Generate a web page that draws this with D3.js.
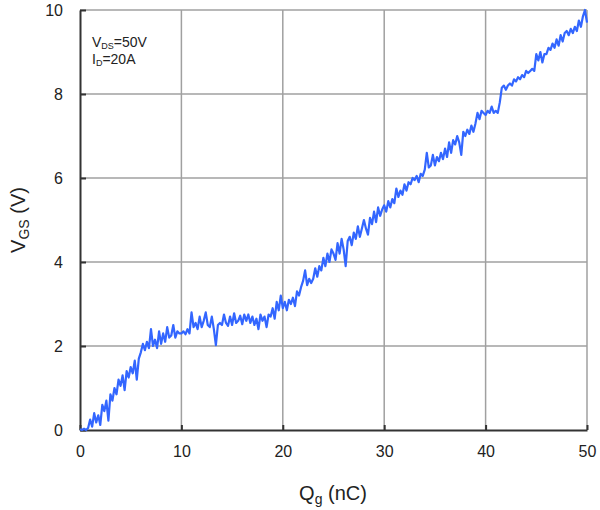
<!DOCTYPE html>
<html>
<head>
<meta charset="utf-8">
<script src="https://cdn.jsdelivr.net/npm/d3@7"></script>
<style>
    body { margin: 0; background: #fff; }
    svg { font-family: "Liberation Sans", Arial, sans-serif; }
</style>
</head>
<body>
<svg id="chart" width="600" height="510"></svg>
<script>
// gate charge curve, sampled every 0.2 nC
const qStep = 0.2
const vgs = [
    0.02, 0.00, 0.03, 0.00, 0.05,
    0.25, 0.08, 0.40, 0.18, 0.35,
    0.12, 0.60, 0.45, 0.70, 0.22,
    0.85, 0.70, 1.00, 0.85, 1.20,
    1.05, 1.30, 0.95, 1.40, 1.25,
    1.50, 1.35, 1.65, 1.20, 1.70,
    1.85, 2.05, 1.90, 2.10, 1.95,
    2.40, 2.00, 2.15, 1.95, 2.35,
    2.05, 2.30, 2.10, 2.45, 2.20,
    2.25, 2.50, 2.20, 2.35, 2.30,
    2.30, 2.35, 2.28, 2.40, 2.30,
    2.80, 2.45, 2.55, 2.40, 2.70,
    2.45, 2.60, 2.80, 2.50, 2.45,
    2.70, 2.40, 2.02, 2.50, 2.55,
    2.50, 2.75, 2.55, 2.48, 2.70,
    2.50, 2.78, 2.55, 2.60, 2.72,
    2.52, 2.75, 2.60, 2.75, 2.55,
    2.70, 2.50, 2.65, 2.40, 2.75,
    2.60, 2.70, 2.45, 2.75, 2.70,
    2.90, 2.65, 3.05, 2.85, 3.20,
    2.90, 3.05, 2.85, 3.10, 3.00,
    3.15, 2.95, 3.30, 3.20, 3.40,
    3.55, 3.80, 3.45, 3.60, 3.50,
    3.60, 3.85, 3.65, 3.90, 3.80,
    4.10, 3.90, 4.20, 4.00, 4.30,
    4.20, 4.05, 4.45, 4.20, 4.55,
    4.30, 3.90, 4.50, 4.60, 4.40,
    4.70, 4.55, 4.85, 4.60, 4.80,
    5.00, 4.80, 4.65, 5.05, 4.90,
    5.20, 4.95, 5.30, 5.10, 5.25,
    5.35, 5.20, 5.45, 5.30, 5.50,
    5.40, 5.75, 5.55, 5.70, 5.60,
    5.85, 5.70, 5.90, 5.85, 6.00,
    5.95, 6.05, 5.90, 6.10, 6.05,
    6.20, 6.60, 6.25, 6.30, 6.55,
    6.30, 6.50, 6.40, 6.60, 6.45,
    6.70, 6.50, 6.85, 6.60, 6.90,
    6.80, 7.00, 6.85, 6.55, 7.10,
    7.00, 7.15, 7.05, 7.25, 7.10,
    7.30, 7.55, 7.40, 7.60, 7.55,
    7.50, 7.60, 7.55, 7.70, 7.55,
    7.60, 7.55, 7.80, 8.15, 8.20,
    8.10, 8.20, 8.25, 8.20, 8.35,
    8.30, 8.40, 8.35, 8.45, 8.40,
    8.55, 8.50, 8.55, 8.60, 8.55,
    8.95, 8.80, 9.00, 8.75, 8.95,
    8.95, 9.10, 9.05, 9.20, 9.10,
    9.30, 9.15, 9.40, 9.25, 9.45,
    9.50, 9.40, 9.55, 9.45, 9.60,
    9.50, 9.75, 9.60, 9.85, 10.00,
    9.70
]
const xTicks = [0, 10, 20, 30, 40, 50]
const yTicks = [0, 2, 4, 6, 8, 10]

const svg = d3.select('#chart')
const plotLeft = 80, plotRight = 587, plotTop = 10, plotBottom = 430

const x = d3.scaleLinear().domain([0, 50]).range([plotLeft, plotRight])
const y = d3.scaleLinear().domain([0, 10]).range([plotBottom, plotTop])

// grid
svg.append('g')
    .selectAll('line')
    .data(xTicks.slice(1))
    .enter().append('line')
    .attr('x1', d => x(d)).attr('x2', d => x(d))
    .attr('y1', plotTop).attr('y2', plotBottom)
    .attr('stroke', '#a0a0a0').attr('stroke-width', 1.5)

svg.append('g')
    .selectAll('line')
    .data(yTicks.slice(1))
    .enter().append('line')
    .attr('x1', plotLeft).attr('x2', plotRight)
    .attr('y1', d => y(d)).attr('y2', d => y(d))
    .attr('stroke', '#a0a0a0').attr('stroke-width', 1.5)

// axes
const xAxis = svg.append('g')
    .attr('transform', `translate(0,${plotBottom})`)
    .call(d3.axisBottom(x).tickValues(xTicks).tickSizeInner(-5).tickSizeOuter(0).tickPadding(16))
const yAxis = svg.append('g')
    .attr('transform', `translate(${plotLeft},0)`)
    .call(d3.axisLeft(y).tickValues(yTicks).tickSizeInner(-6).tickSizeOuter(0).tickPadding(17))

;[xAxis, yAxis].forEach(a => {
    a.select('.domain').attr('stroke', '#333').attr('stroke-width', 2)
    a.selectAll('.tick line').attr('stroke', '#333').attr('stroke-width', 2)
    a.selectAll('.tick text')
        .attr('font-size', 16)
        .attr('fill', '#222')
        .attr('font-family', '"Liberation Sans", Arial, sans-serif')
})

// curve
const line = d3.line()
    .x((d, i) => x(i * qStep))
    .y(d => y(d))

svg.append('path')
    .datum(vgs)
    .attr('d', line)
    .attr('fill', 'none')
    .attr('stroke', '#3366ff')
    .attr('stroke-width', 2.2)
    .attr('stroke-linejoin', 'round')

// axis titles
const xt = svg.append('text')
    .attr('x', 333).attr('y', 500)
    .attr('text-anchor', 'middle')
    .attr('font-size', 20)
    .attr('fill', '#222')
xt.append('tspan').text('Q')
xt.append('tspan').attr('font-size', 14).attr('dy', 4).text('g')
xt.append('tspan').attr('dy', -4).text(' (nC)')

const yt = svg.append('text')
    .attr('transform', 'translate(25,220) rotate(-90)')
    .attr('text-anchor', 'middle')
    .attr('font-size', 20)
    .attr('fill', '#222')
yt.append('tspan').text('V')
yt.append('tspan').attr('font-size', 14).attr('dy', 4).text('GS')
yt.append('tspan').attr('dy', -4).text(' (V)')

// conditions
const c1 = svg.append('text').attr('x', 92).attr('y', 47).attr('font-size', 14).attr('fill', '#222')
c1.append('tspan').text('V')
c1.append('tspan').attr('font-size', 9).attr('dy', 2).text('DS')
c1.append('tspan').attr('dy', -2).text('=50V')

const c2 = svg.append('text').attr('x', 92).attr('y', 64).attr('font-size', 14).attr('fill', '#222')
c2.append('tspan').text('I')
c2.append('tspan').attr('font-size', 9).attr('dy', 2).text('D')
c2.append('tspan').attr('dy', -2).text('=20A')
</script>
</body>
</html>
